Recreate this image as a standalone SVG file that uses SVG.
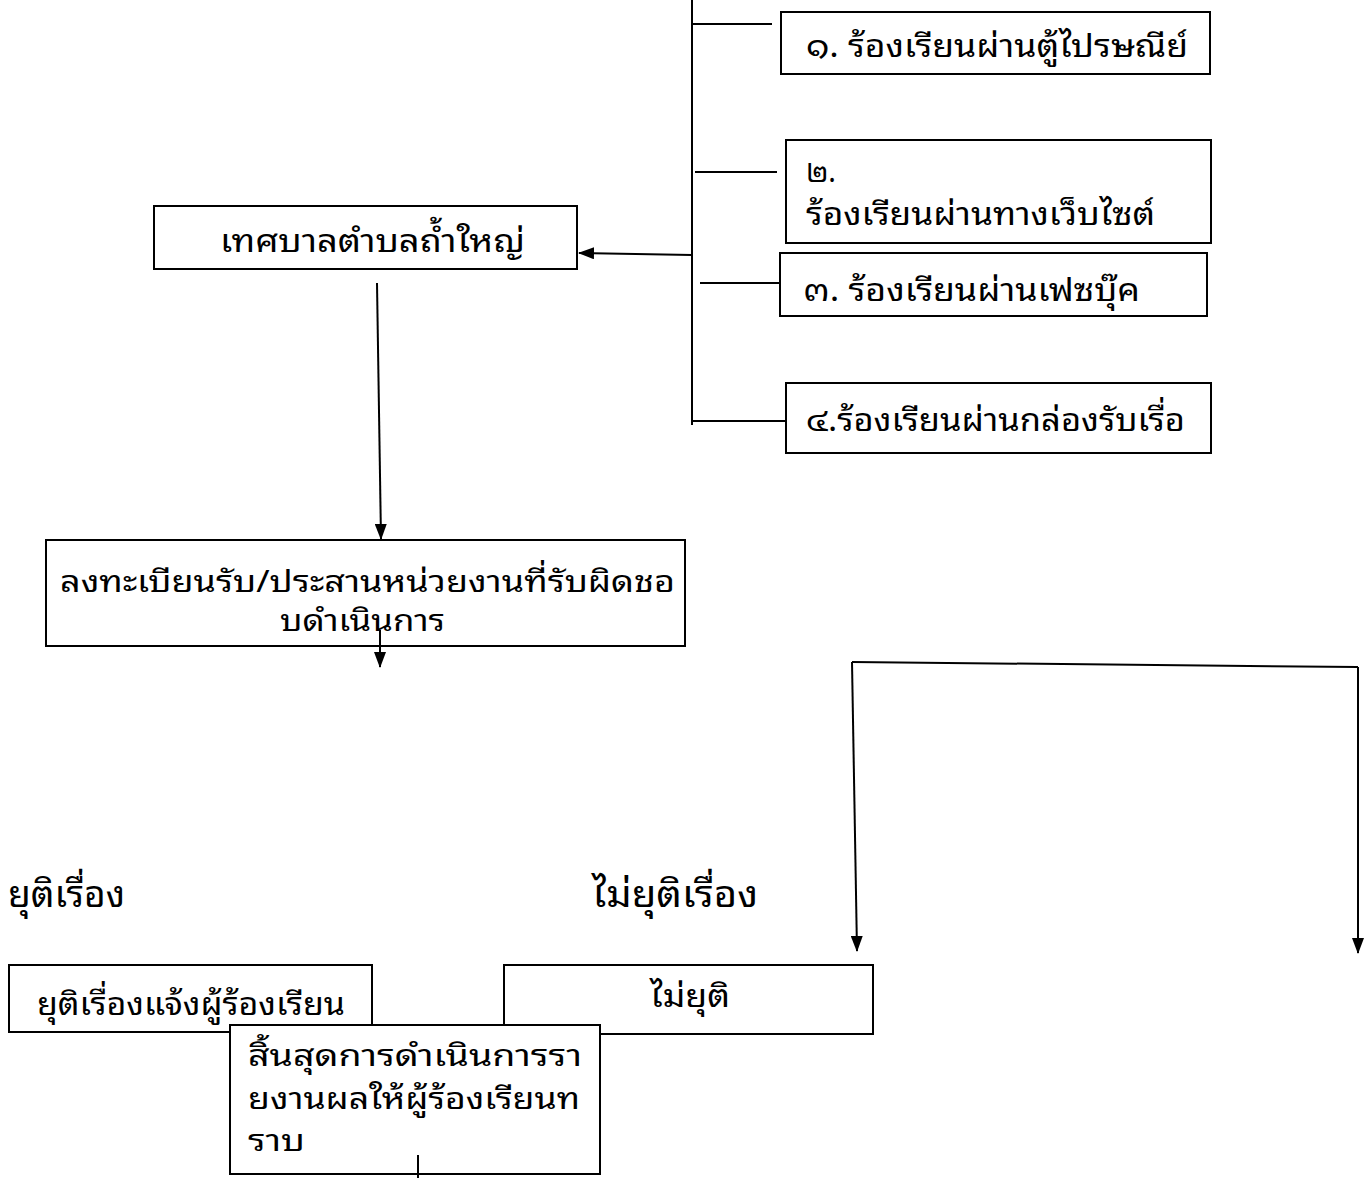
<svg xmlns="http://www.w3.org/2000/svg" width="1371" height="1178" viewBox="0 0 1371 1178">
<style>
.box{fill:#fff;stroke:#000;stroke-width:2}
.ln{fill:none;stroke:#000;stroke-width:2}
text{font-family:"Noto Sans Thai Looped","Loma","Garuda","Noto Sans Thai","DejaVu Sans",sans-serif;font-size:32px;fill:#000}
.big{font-size:36px}
.sm{font-size:30px}
</style>
<defs>
<marker id="ah" markerWidth="16" markerHeight="12" refX="15" refY="6" orient="auto" markerUnits="userSpaceOnUse" viewBox="0 0 16 12">
<path d="M0,0 L16,6 L0,12 z" fill="#000"/>
</marker>
</defs>
<rect width="1371" height="1178" fill="#fff"/>
<g id="connectors">
<line class="ln" x1="692" y1="0" x2="692" y2="425"/>
<line class="ln" x1="693" y1="24" x2="772" y2="24"/>
<line class="ln" x1="695" y1="172" x2="777" y2="172"/>
<line class="ln" x1="700" y1="283" x2="780" y2="283"/>
<line class="ln" x1="693" y1="421" x2="786" y2="421"/>
<line class="ln" x1="692" y1="255" x2="579" y2="253" marker-end="url(#ah)"/>
<line class="ln" x1="377" y1="283" x2="381" y2="539" marker-end="url(#ah)"/>
<polyline class="ln" points="852,662 1358,667"/>
<line class="ln" x1="852" y1="662" x2="857" y2="951" marker-end="url(#ah)"/>
<line class="ln" x1="1358" y1="667" x2="1358" y2="953" marker-end="url(#ah)"/>
</g>
<g id="n1"><rect class="box" x="781" y="12" width="429" height="62"/><text x="806" y="57" textLength="382" lengthAdjust="spacingAndGlyphs">๑. ร้องเรียนผ่านตู้ไปรษณีย์</text></g>
<g id="n2"><rect class="box" x="786" y="140" width="425" height="103"/><text class="sm" x="806" y="182" textLength="30" lengthAdjust="spacingAndGlyphs">๒.</text><text x="806" y="225" textLength="349" lengthAdjust="spacingAndGlyphs">ร้องเรียนผ่านทางเว็บไซต์</text></g>
<g id="n3"><rect class="box" x="780" y="253" width="427" height="63"/><text x="803" y="301" textLength="337" lengthAdjust="spacingAndGlyphs">๓. ร้องเรียนผ่านเฟซบุ๊ค</text></g>
<g id="n4"><rect class="box" x="786" y="383" width="425" height="70"/><text x="806" y="431" textLength="379" lengthAdjust="spacingAndGlyphs">๔.ร้องเรียนผ่านกล่องรับเรื่อ</text></g>
<g id="n5"><rect class="box" x="154" y="206" width="423" height="63"/><text x="220" y="252" textLength="305" lengthAdjust="spacingAndGlyphs">เทศบาลตำบลถ้ำใหญ่</text></g>
<g id="n6"><rect class="box" x="46" y="540" width="639" height="106"/><text class="sm" x="60" y="592" textLength="615" lengthAdjust="spacingAndGlyphs">ลงทะเบียนรับ/ประสานหน่วยงานที่รับผิดชอ</text><text class="sm" x="280" y="631" textLength="165" lengthAdjust="spacingAndGlyphs">บดำเนินการ</text></g>
<line class="ln" x1="380" y1="630" x2="380" y2="667" marker-end="url(#ah)"/>
<g id="l1"><text class="big" x="8" y="907" textLength="117" lengthAdjust="spacingAndGlyphs">ยุติเรื่อง</text></g>
<g id="l2"><text class="big" x="592" y="907" textLength="166" lengthAdjust="spacingAndGlyphs">ไม่ยุติเรื่อง</text></g>
<g id="n7"><rect class="box" x="9" y="965" width="363" height="67"/><text x="37" y="1015" textLength="308" lengthAdjust="spacingAndGlyphs">ยุติเรื่องแจ้งผู้ร้องเรียน</text></g>
<g id="n8"><rect class="box" x="504" y="965" width="369" height="69"/><text x="650" y="1007" textLength="80" lengthAdjust="spacingAndGlyphs">ไม่ยุติ</text></g>
<g id="n9"><rect class="box" x="230" y="1025" width="370" height="149"/><text class="sm" x="248" y="1066" textLength="334" lengthAdjust="spacingAndGlyphs">สิ้นสุดการดำเนินการรา</text><text class="sm" x="248" y="1109" textLength="332" lengthAdjust="spacingAndGlyphs">ยงานผลให้ผู้ร้องเรียนท</text><text class="sm" x="248" y="1151" textLength="57" lengthAdjust="spacingAndGlyphs">ราบ</text></g>
<line class="ln" x1="418" y1="1155" x2="418" y2="1178"/>
</svg>
